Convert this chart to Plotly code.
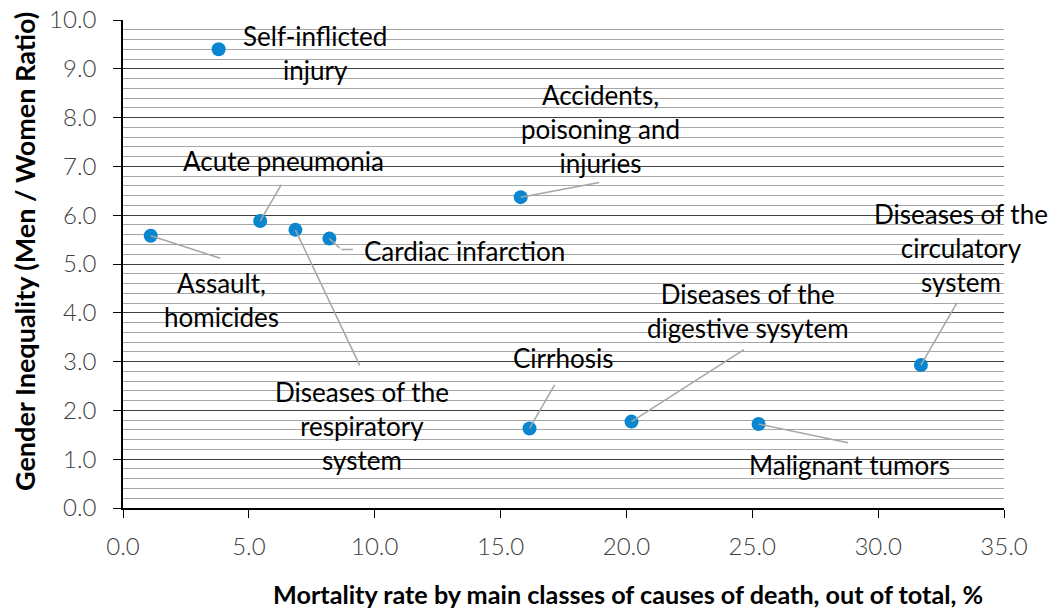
import plotly.graph_objects as go

causes = ["Self-inflicted<br>injury", "Acute pneumonia", "Assault,<br>homicides",
          "Diseases of the<br>respiratory<br>system", "Cardiac infarction",
          "Accidents,<br>poisoning and<br>injuries", "Cirrhosis",
          "Diseases of the<br>digestive sysytem", "Malignant tumors",
          "Diseases of the<br>circulatory<br>system"]
mortality = [3.8, 5.45, 1.1, 6.85, 8.2, 15.8, 16.15, 20.2, 25.25, 31.7]
ratio = [9.4, 5.88, 5.58, 5.7, 5.52, 6.37, 1.63, 1.77, 1.72, 2.93]

# label placement: text offset (px), leader line end offset (px), alignment
text_dx = [96, 23, 71, 67, 33, 80, 34, 117, 91, 40]
text_dy = [4, -60, 64, 196, 12, -68, -70, -111, 41, -117]
line_dx = [0, 22, 71, 65, 25, 80, 26, 114, 91, 37]
line_dy = [0, -38, 23, 137, 11, -15, -45, -73, 19, -64]
xanchors = ["center", "center", "center", "center", "left", "center", "center", "center", "center", "center"]

fig = go.Figure()
fig.add_trace(go.Scatter(x=mortality, y=ratio, mode="markers",
                         marker=dict(color="#0a86d0", size=14), hoverinfo="skip",
                         showlegend=False))

font_lbl = dict(family="Lato", size=26, color="#000000")
for i, c in enumerate(causes):
    if line_dx[i] != 0 or line_dy[i] != 0:
        if i == 4:
            fig.add_annotation(x=mortality[i], y=ratio[i], text="", showarrow=True,
                               arrowhead=0, arrowwidth=1.5, arrowcolor="#a6a6a6",
                               ax=12, ay=11, axref="pixel", ayref="pixel")
            fig.add_annotation(x=mortality[i], y=ratio[i], text="", showarrow=True,
                               arrowhead=0, arrowwidth=1.5, arrowcolor="#a6a6a6",
                               ax=line_dx[i] - 12, ay=0, standoff=0,
                               xshift=12, yshift=-11)
        else:
            fig.add_annotation(x=mortality[i], y=ratio[i], text="", showarrow=True,
                               arrowhead=0, arrowwidth=1.5, arrowcolor="#a6a6a6",
                               ax=line_dx[i], ay=line_dy[i])
    fig.add_annotation(x=mortality[i], y=ratio[i], text=c, showarrow=False,
                       xshift=text_dx[i], yshift=-text_dy[i], xanchor=xanchors[i],
                       yanchor="middle", align="center", font=font_lbl)

fig.add_annotation(xref="paper", yref="paper", x=0.573, y=0, yshift=-86,
                   text="<b>Mortality rate by main classes of causes of death, out of total, %</b>",
                   showarrow=False, xanchor="center", yanchor="middle",
                   font=dict(family="Lato", size=25.2, color="#000000"))
fig.add_annotation(xref="paper", yref="paper", x=0, y=0.5246, xshift=-98,
                   text="<b>Gender Inequality (Men / Women Ratio)</b>", textangle=-90,
                   showarrow=False, xanchor="center", yanchor="middle",
                   font=dict(family="Lato", size=27, color="#000000"))

tickfont = dict(family="Lato", size=24, color="#404040", weight=300)
fig.update_layout(
    width=1053, height=608,
    margin=dict(l=123, r=49, t=20, b=100),
    plot_bgcolor="white", paper_bgcolor="white",
    font=dict(family="Lato"),
    xaxis=dict(range=[0, 35], dtick=5, tickformat=".1f", showgrid=False,
               zeroline=False, showline=True, linecolor="#000000", linewidth=1.5,
               ticks="outside", ticklen=8, tickcolor="#000000", automargin=False,
               ticklabelstandoff=8, tickfont=tickfont),
    yaxis=dict(range=[0, 10], dtick=1, tickformat=".1f", showgrid=True,
               gridcolor="#404040", gridwidth=1, zeroline=False,
               showline=True, linecolor="#000000", linewidth=1.5,
               ticks="outside", ticklen=8, tickcolor="#000000", automargin=False,
               ticklabelstandoff=12, tickfont=tickfont,
               minor=dict(dtick=0.2, showgrid=True, gridcolor="#a6a6a6", gridwidth=1)),
)

fig.write_html("out.html", config={"displayModeBar": False},
               post_script="document.body.style.margin='0';document.body.style.overflow='hidden';")
